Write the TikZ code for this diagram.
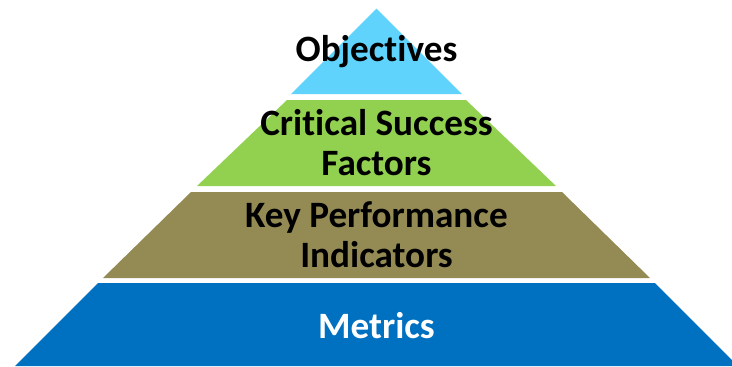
\documentclass[tikz,border=0pt]{standalone}
\usepackage{fontspec}
\setmainfont[Ligatures=NoCommon]{Carlito}
\definecolor{topblue}{RGB}{96,211,253}
\definecolor{csfgreen}{RGB}{146,208,80}
\definecolor{kpiolive}{RGB}{148,138,84}
\definecolor{metblue}{RGB}{0,112,192}
\begin{document}
\begin{tikzpicture}[x=0.5pt, y=-0.5pt, label/.style={font=\fontsize{18.6}{20}\selectfont\bfseries, align=center, inner sep=0pt}]
			\useasboundingbox (0, 0) rectangle (732, 366);
			\clip (0, 0) rectangle (732, 366);
			\fill[topblue] (376.5, 8.5) -- (462, 94) -- (291, 94) -- cycle;
			\fill[csfgreen] (287, 100) -- (466, 100) -- (556, 186) -- (197, 186) -- cycle;
			\fill[kpiolive] (191, 192) -- (562, 192) -- (650, 278) -- (103, 278) -- cycle;
			\fill[metblue] (98, 283) -- (655, 283) -- (738, 366) -- (15, 366) -- cycle;
			\node[label] (obj) at (376.5, 52) {Objectives};
			\node[label] (csf) at (376.5, 143) {Critical Success\\Factors};
			\node[label] (kpi) at (376.5, 235) {Key Performance\\Indicators};
			\node[label, text=white] (met) at (376.5, 326) {Metrics};
		\end{tikzpicture}
\end{document}
